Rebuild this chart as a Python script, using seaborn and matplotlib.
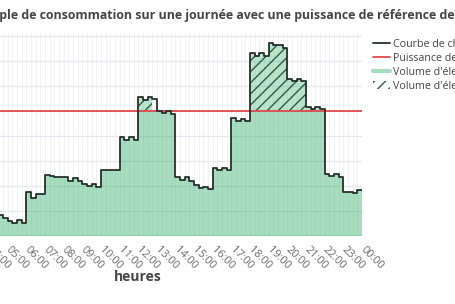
import numpy as np
import pandas as pd
import matplotlib
matplotlib.use("Agg")
import matplotlib.pyplot as plt
import seaborn as sns
from matplotlib.lines import Line2D
from matplotlib.patches import Patch

# ---------------- data ----------------
start_time = "04:30"
step_minutes = 15
puissance = [16.4, 14.0, 11.6, 10.0, 12.4, 10.0,
             34.8, 30.0, 33.2, 33.2,
             48.4, 48.0, 47.2, 46.8,
             46.6, 43.8, 46.2, 43.8,
             41.2, 39.6, 41.2, 39.0,
             52.4, 52.4, 52.4, 52.4,
             78.6, 76.8, 78.6, 76.4,
             110.8, 108.8, 110.8, 109.2,
             99.6, 98.0, 99.6, 97.2,
             46.6, 44.4, 46.6, 43.8,
             40.4, 37.8, 39.0, 37.0,
             54.4, 52.4, 54.4, 52.4,
             93.8, 91.6, 93.6, 91.6,
             146.0, 143.6, 146.0, 143.6,
             154.2, 152.4, 152.4, 150.0,
             125.6, 124.0, 125.6, 124.0,
             102.6, 101.0, 103.0, 101.4,
             49.2, 47.6, 49.2, 47.0,
             35.0, 35.0, 34.4, 36.4]
puissance_reference = 100.0
tick_hours = list(range(0, 25))
tick_labels = [f"{h % 24:02d}:00" for h in tick_hours]
title = "Exemple de consommation sur une journée avec une puissance de référence de 100 kW"
legend_labels = ["Courbe de charge", "Puissance de référence",
                 "Volume d'électricité sous la puissance de référence",
                 "Volume d'électricité au-dessus de la puissance de référence"]

# time axis (hours)
h0, m0 = map(int, start_time.split(":"))
t0 = h0 + m0 / 60
heures = [t0 + i * step_minutes / 60 for i in range(len(puissance))]
# close last step at 24:00
heures_s = heures + [24.0]
puiss_s = puissance + [puissance[-1]]
df = pd.DataFrame({"heure": heures_s, "puissance": puiss_s})

# ---------------- style ----------------
sns.set_theme(style="white")
plt.rcParams["font.family"] = ["Open Sans", "DejaVu Sans"]
plt.rcParams["hatch.linewidth"] = 1.0
plt.rcParams["hatch.color"] = "#2e5c40"

W, H = 456, 304
fig = plt.figure(figsize=(W / 100, H / 100), dpi=100)
x_left_px, x_right_px = -85.6, 362.0
y_top_px, y_bot_px = 33.0, 235.5
ax = fig.add_axes([x_left_px / W, 1 - y_bot_px / H,
                   (x_right_px - x_left_px) / W, (y_bot_px - y_top_px) / H])

ax.set_xlim(0, 24)
ax.set_ylim(0, 162)

# grid
ax.set_xticks(tick_hours)
ax.set_xticks(np.arange(0, 24.01, 0.25), minor=True)
ax.set_yticks(np.arange(0, 161, 20))
ax.grid(which="minor", axis="x", color="#eef0f4", lw=0.6, zorder=0)
ax.grid(which="major", axis="x", color="#eef0f4", lw=0.6, zorder=0)
ax.grid(which="major", axis="y", color="#e3e7ee", lw=0.9, zorder=0)
ax.set_axisbelow(True)
for s in ax.spines.values():
    s.set_visible(False)

x = np.array(heures_s)
y = np.array(puiss_s)
ref = np.full_like(y, puissance_reference)

green_fill = (60 / 255, 179 / 255, 113 / 255, 0.45)
ax.fill_between(x, 0, np.minimum(y, ref), step="post", facecolor=green_fill,
                linewidth=0, zorder=1)
ax.fill_between(x, ref, np.maximum(y, ref), where=y >= ref - 1e-9, step="post",
                facecolor=(60 / 255, 179 / 255, 113 / 255, 0.35), edgecolor="#2e5c40",
                hatch="///", linewidth=0, zorder=1.5)
ax.axhline(0, color="#8fcfa6", lw=1.4, zorder=1.6)

sns.lineplot(data=df, x="heure", y="puissance", drawstyle="steps-post",
             color="#26302b", lw=1.3, ax=ax, zorder=3)
ax.axhline(puissance_reference, color="#e0484d", lw=1.3, zorder=2.5)

ax.set_xticklabels(tick_labels, rotation=-45, ha="left", va="center",
                   rotation_mode="anchor", fontsize=7.9, color="#6a6a6a")
ax.tick_params(axis="x", which="both", length=0, pad=9)
ax.tick_params(axis="y", length=0, labelsize=8.3, labelcolor="#6a6a6a")
ax.set_ylabel("")
ax.set_xlabel("")
fig.text(138.2 / W, 1 - 277 / H, "heures", ha="center", va="center",
         fontsize=10, fontweight="bold", color="#444444")

# title (left part cropped)
tfs = 8.9
fig.canvas.draw()
r = fig.canvas.get_renderer()
tmp = fig.text(0, 0, "Exem", fontsize=tfs, fontweight="bold")
wpx = tmp.get_window_extent(r).width
tmp.remove()
fig.text((-wpx - 0.5) / W, 1 - 15.5 / H, title, ha="left", va="center",
         fontsize=tfs, fontweight="bold", color="#444444")

# legend
handles = [Line2D([0], [0], color="#26302b", lw=1.3),
           Line2D([0], [0], color="#e0484d", lw=1.3),
           Line2D([0], [0], color=green_fill, lw=3),
           Patch(facecolor="none", edgecolor="#2e5c40", hatch="///", linewidth=0)]
fig.legend(handles, legend_labels, loc="upper left",
           bbox_to_anchor=(373 / W, 1 - 39 / H), frameon=False,
           fontsize=7.7, labelcolor="#444444", handlelength=1.55,
           handletextpad=0.35, borderpad=0, borderaxespad=0, labelspacing=0.28)

fig.savefig("out.png", dpi=100)
